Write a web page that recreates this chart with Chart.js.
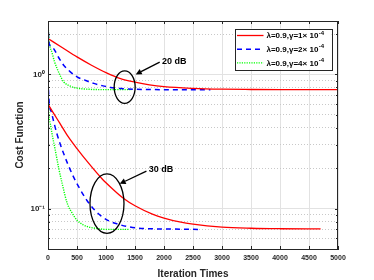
<!DOCTYPE html>
<html>
<head>
<meta charset="utf-8">
<script src="https://cdn.jsdelivr.net/npm/chart.js@4.4.1/dist/chart.umd.min.js"></script>
<style>
  html, body { margin: 0; padding: 0; background: #fff; }
</style>
</head>
<body>
<canvas id="costChart" width="374" height="280"></canvas>
<script>
// axis ticks
const xTicks = [0, 500, 1000, 1500, 2000, 2500, 3000, 3500, 4000, 4500, 5000]
const yGridValues = [0.05, 0.06, 0.07, 0.08, 0.09, 0.1, 0.2, 0.3, 0.4, 0.5, 0.6, 0.7, 0.8, 0.9, 1, 2]

// 20 dB curves
const red20Iter = [0, 250, 500, 750, 1000, 1250, 1500, 1750, 2000, 2500, 3000, 3500, 4000, 4500, 5000]
const red20Cost = [1.85, 1.58, 1.35, 1.17, 1.03, 0.93, 0.875, 0.835, 0.81, 0.787, 0.776, 0.772, 0.77, 0.77, 0.77]
const blue20Iter = [0, 15, 40, 100, 150, 200, 270, 380, 500, 650, 790, 930, 1075, 1250, 1480, 2000, 2800]
const blue20Cost = [2.4, 1.75, 1.63, 1.55, 1.42, 1.3, 1.17, 1.05, 0.96, 0.9, 0.857, 0.825, 0.80, 0.785, 0.775, 0.77, 0.77]
const green20Iter = [0, 10, 30, 70, 110, 155, 210, 270, 350, 500, 700, 1000, 1450]
const green20Cost = [2.44, 2.0, 1.65, 1.45, 1.25, 1.11, 0.98, 0.88, 0.83, 0.79, 0.775, 0.77, 0.77]

// 30 dB curves
const red30Iter = [0, 100, 200, 345, 500, 700, 931, 1100, 1305, 1500, 1800, 2000, 2270, 2500, 3000, 3500, 4000, 4700]
const red30Cost = [0.6, 0.51, 0.435, 0.345, 0.28, 0.218, 0.167, 0.142, 0.119, 0.105, 0.091, 0.085, 0.0795, 0.0765, 0.0728, 0.0714, 0.0708, 0.0705]
const blue30Iter = [0, 20, 60, 155, 270, 414, 550, 672, 800, 903, 1050, 1190, 1400, 1650, 2000, 2600]
const blue30Cost = [0.9, 0.62, 0.52, 0.36, 0.257, 0.182, 0.14, 0.115, 0.098, 0.089, 0.081, 0.077, 0.073, 0.071, 0.0705, 0.07]
const green30Iter = [0, 10, 40, 70, 120, 185, 250, 330, 420, 500, 600, 700, 850, 1000, 1400]
const green30Cost = [0.9, 0.55, 0.43, 0.36, 0.28, 0.2, 0.15, 0.11, 0.092, 0.082, 0.076, 0.073, 0.071, 0.07, 0.07]

const legendLabels = ['λ=0.9,γ=1× 10', 'λ=0.9,γ=2× 10', 'λ=0.9,γ=4× 10']
const legendExponent = '-4'

const COLORS = {
  red: 'rgb(255, 0, 0)',
  blue: 'rgb(0, 0, 255)',
  green: 'rgb(0, 255, 0)',
  axis: '#262626',
}

const FONT = '"Liberation Sans", Arial, sans-serif'

const STYLES = [
  { color: COLORS.red, dash: [], width: 1.3 },
  { color: COLORS.blue, dash: [5, 4], width: 1.5 },
  { color: COLORS.green, dash: [1.2, 1.2], width: 1.4 },
]

function toPoints(iter, cost) {
  return iter.map((x, i) => ({ x: x, y: cost[i] }))
}

function makeDataset(iter, cost, style) {
  return {
    data: toPoints(iter, cost),
    borderColor: style.color,
    backgroundColor: style.color,
    borderDash: style.dash,
    borderWidth: style.width,
    pointRadius: 0,
    cubicInterpolationMode: 'monotone',
    fill: false,
  }
}

function isPow10(v) {
  const l = Math.log10(v)
  return Math.abs(l - Math.round(l)) < 1e-9
}

// positions of the notes drawn on top of the plot
const notes = [
  { label: '20 dB', cx: 1322, cy: 0.804, rx: 10.5, ry: 16.3, tail: [1926, 1.235], head: [1512, 1.0], text: [1965, 1.24] },
  { label: '30 dB', cx: 1017, cy: 0.109, rx: 17, ry: 29.7, tail: [1697, 0.19], head: [1236, 0.153], text: [1735, 0.197] },
]

const overlayPlugin = {
  id: 'overlay',
  afterDraw(chart) {
    const ctx = chart.ctx
    const area = chart.chartArea
    const xs = chart.scales.x
    const ys = chart.scales.y
    ctx.save()

    // box
    ctx.strokeStyle = COLORS.axis
    ctx.lineWidth = 1
    ctx.strokeRect(area.left + 0.5, area.top + 0.5, area.right - area.left - 1, area.bottom - area.top)

    // inward tick marks
    ctx.beginPath()
    xTicks.forEach((t) => {
      const px = Math.round(xs.getPixelForValue(t)) + 0.5
      ctx.moveTo(px, area.bottom); ctx.lineTo(px, area.bottom - 3)
      ctx.moveTo(px, area.top); ctx.lineTo(px, area.top + 3)
    })
    yGridValues.forEach((v) => {
      const py = Math.round(ys.getPixelForValue(v)) + 0.5
      const len = isPow10(v) ? 3 : 2
      ctx.moveTo(area.left, py); ctx.lineTo(area.left + len, py)
      ctx.moveTo(area.right, py); ctx.lineTo(area.right - len, py)
    })
    ctx.stroke()

    // ellipses and arrows
    ctx.strokeStyle = '#000'
    ctx.fillStyle = '#000'
    ctx.lineWidth = 1.3
    ctx.font = 'bold 9px ' + FONT
    ctx.textBaseline = 'middle'
    ctx.textAlign = 'left'
    notes.forEach((n) => {
      const cx = xs.getPixelForValue(n.cx)
      const cy = ys.getPixelForValue(n.cy)
      ctx.beginPath()
      ctx.ellipse(cx, cy, n.rx, n.ry, 0, 0, Math.PI * 2)
      ctx.stroke()

      const tx = xs.getPixelForValue(n.tail[0])
      const ty = ys.getPixelForValue(n.tail[1])
      const hx = xs.getPixelForValue(n.head[0])
      const hy = ys.getPixelForValue(n.head[1])
      const ang = Math.atan2(hy - ty, hx - tx)
      const hl = 6
      const hw = 3
      const bx = hx - hl * Math.cos(ang)
      const by = hy - hl * Math.sin(ang)
      ctx.beginPath()
      ctx.moveTo(tx, ty); ctx.lineTo(bx, by)
      ctx.stroke()
      ctx.beginPath()
      ctx.moveTo(hx, hy)
      ctx.lineTo(bx + hw * Math.sin(ang), by - hw * Math.cos(ang))
      ctx.lineTo(bx - hw * Math.sin(ang), by + hw * Math.cos(ang))
      ctx.closePath()
      ctx.fill()

      ctx.fillText(n.label, xs.getPixelForValue(n.text[0]), ys.getPixelForValue(n.text[1]))
    })

    // legend box
    const lw = 97
    const lh = 41
    const lx = area.right - 6.5 - lw
    const ly = area.top + 7.5
    ctx.fillStyle = '#fff'
    ctx.fillRect(lx, ly, lw, lh)
    ctx.strokeStyle = COLORS.axis
    ctx.lineWidth = 1
    ctx.strokeRect(Math.round(lx) + 0.5, Math.round(ly) + 0.5, lw, lh)
    legendLabels.forEach((label, i) => {
      const style = STYLES[i]
      const rowY = ly + 7 + i * 13.7
      ctx.beginPath()
      ctx.strokeStyle = style.color
      ctx.lineWidth = style.width
      ctx.setLineDash(style.dash)
      ctx.moveTo(lx + 2.5, rowY); ctx.lineTo(lx + 29, rowY)
      ctx.stroke()
      ctx.setLineDash([])
      ctx.fillStyle = '#000'
      ctx.font = 'bold 8px ' + FONT
      ctx.textBaseline = 'middle'
      const textX = lx + 32
      ctx.fillText(label, textX, rowY + 0.5)
      const w = ctx.measureText(label).width
      ctx.font = 'bold 6px ' + FONT
      ctx.fillText(legendExponent, textX + w + 0.5, rowY - 2.5)
    })

    ctx.restore()
  },
}

const ctxEl = document.getElementById('costChart').getContext('2d')
new Chart(ctxEl, {
  type: 'line',
  data: {
    datasets: [
      makeDataset(red20Iter, red20Cost, STYLES[0]),
      makeDataset(blue20Iter, blue20Cost, STYLES[1]),
      makeDataset(green20Iter, green20Cost, STYLES[2]),
      makeDataset(red30Iter, red30Cost, STYLES[0]),
      makeDataset(blue30Iter, blue30Cost, STYLES[1]),
      makeDataset(green30Iter, green30Cost, STYLES[2]),
    ],
  },
  options: {
    responsive: false,
    animation: false,
    devicePixelRatio: 1,
    layout: { padding: { top: 21, right: 36, left: 0, bottom: 0 } },
    plugins: {
      legend: { display: false },
      tooltip: { enabled: false },
    },
    scales: {
      x: {
        type: 'linear',
        min: 0,
        max: 5000,
        afterBuildTicks: (s) => { s.ticks = xTicks.map((v) => ({ value: v })) },
        afterFit: (s) => { s.height = 31 },
        ticks: {
          autoSkip: false,
          maxRotation: 0,
          padding: 5,
          color: COLORS.axis,
          font: { family: FONT, size: 7, weight: 'bold' },
          callback: (v) => String(v),
        },
        grid: { color: '#e2e2e2', drawTicks: false, lineWidth: 1 },
        border: { color: COLORS.axis, width: 1 },
        title: {
          display: true,
          text: 'Iteration Times',
          color: COLORS.axis,
          padding: { top: 0, bottom: 0 },
          font: { family: FONT, size: 10, weight: 'bold' },
        },
      },
      y: {
        type: 'logarithmic',
        min: 0.05,
        max: 2.5,
        afterBuildTicks: (s) => { s.ticks = yGridValues.map((v) => ({ value: v, major: isPow10(v) })) },
        afterFit: (s) => { s.width = 48 },
        ticks: {
          autoSkip: false,
          padding: 3,
          color: COLORS.axis,
          font: { family: FONT, size: 8, weight: 'bold' },
          callback: (v) => {
            if (Math.abs(v - 1) < 1e-9) return '10⁰'
            if (Math.abs(v - 0.1) < 1e-9) return '10⁻¹'
            return ''
          },
        },
        grid: {
          drawTicks: false,
          lineWidth: 1,
          color: (c) => (c.tick && isPow10(c.tick.value) ? '#e2e2e2' : '#c8c8c8'),
        },
        border: {
          color: COLORS.axis,
          width: 1,
          dash: (c) => (c.tick && !isPow10(c.tick.value) ? [1, 2] : []),
        },
        title: {
          display: true,
          text: 'Cost Function',
          color: COLORS.axis,
          padding: { top: 14, bottom: 0 },
          font: { family: FONT, size: 10, weight: 'bold' },
        },
      },
    },
  },
  plugins: [overlayPlugin],
})
</script>
</body>
</html>
